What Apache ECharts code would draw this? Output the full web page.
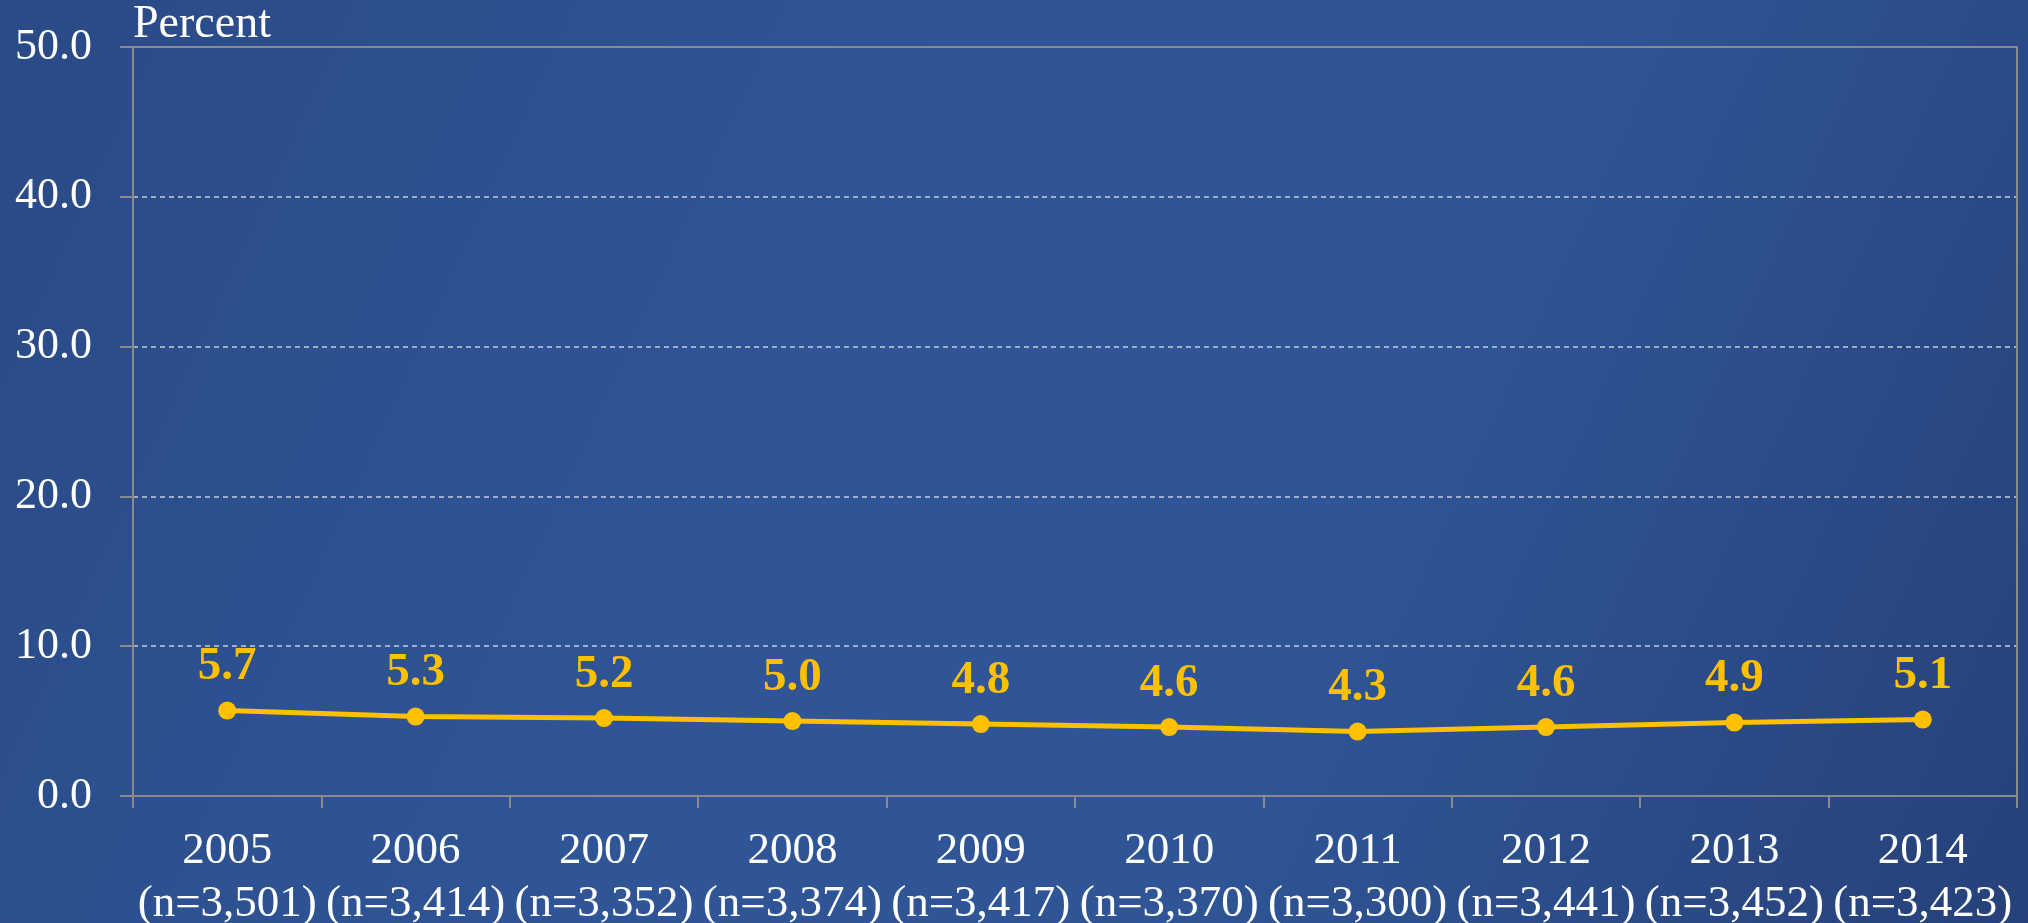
<!DOCTYPE html>
<html>
<head>
<meta charset="utf-8" />
<script src="https://cdn.jsdelivr.net/npm/echarts@6/dist/echarts.min.js"></script>
<style>
  html, body { margin: 0; height: 100%; }
  #chart { width: 2028px; height: 923px; }
</style>
</head>
<body>
<div id="chart"></div>
<script>
// chart data
var years = ['2005', '2006', '2007', '2008', '2009', '2010', '2011', '2012', '2013', '2014'];
var sampleSizes = ['3,501', '3,414', '3,352', '3,374', '3,417', '3,370', '3,300', '3,441', '3,452', '3,423'];
var percents = [5.7, 5.3, 5.2, 5.0, 4.8, 4.6, 4.3, 4.6, 4.9, 5.1];
var yTicks = [0, 10, 20, 30, 40, 50];

var categories = years.map(function (y, i) {
  return y + '\n(n=' + sampleSizes[i] + ')';
});

var serif = '"Liberation Serif", "DejaVu Serif", serif';
var gray = '#8a8a8a';

var myChart = echarts.init(document.getElementById('chart'));

var option = {
  backgroundColor: new echarts.graphic.LinearGradient(0, 0, 1, 1, [
    { offset: 0, color: '#2a4a86' },
    { offset: 0.4, color: '#2f5597' },
    { offset: 0.65, color: '#2f5596' },
    { offset: 1, color: '#26417a' }
  ]),
  animation: false,
  grid: { left: 133, right: 11, top: 47, bottom: 127, outerBoundsMode: 'none' },
  xAxis: [
    {
      type: 'category',
      data: categories,
      boundaryGap: true,
      axisLine: { lineStyle: { color: gray, width: 2 } },
      axisTick: { show: true, length: 12, lineStyle: { color: gray, width: 2 } },
      axisLabel: {
        color: '#ffffff',
        fontFamily: serif,
        fontSize: 45,
        lineHeight: 53,
        margin: 29,
        interval: 0
      }
    },
    {
      // top border of the plot
      type: 'category',
      position: 'top',
      data: categories,
      zlevel: 1,
      axisLine: { onZero: false, lineStyle: { color: gray, width: 2 } },
      axisTick: { show: false },
      axisLabel: { show: false }
    }
  ],
  yAxis: [
    {
      type: 'value',
      min: yTicks[0],
      max: yTicks[yTicks.length - 1],
      interval: 10,
      name: 'Percent',
      nameLocation: 'end',
      nameGap: -1,
      nameTextStyle: {
        color: '#ffffff',
        fontFamily: serif,
        fontSize: 46,
        align: 'left',
        verticalAlign: 'bottom'
      },
      axisLine: { show: true, lineStyle: { color: gray, width: 2 } },
      axisTick: { show: true, length: 13, lineStyle: { color: gray, width: 2 } },
      axisLabel: {
        color: '#ffffff',
        fontFamily: serif,
        fontSize: 44,
        margin: 41,
        formatter: function (v) { return v.toFixed(1); }
      },
      splitLine: {
        show: true,
        lineStyle: { color: '#c3cce0', width: 1.5, type: [5, 4] }
      }
    },
    {
      // right border of the plot
      type: 'value',
      position: 'right',
      min: yTicks[0],
      max: yTicks[yTicks.length - 1],
      interval: 10,
      zlevel: 1,
      axisLine: { show: true, onZero: false, lineStyle: { color: gray, width: 2 } },
      axisTick: { show: false },
      axisLabel: { show: false },
      splitLine: { show: false }
    }
  ],
  series: [
    {
      name: 'Percent',
      type: 'line',
      data: percents,
      symbol: 'circle',
      symbolSize: 18,
      itemStyle: { color: '#ffc000' },
      lineStyle: { color: '#ffc000', width: 5 },
      label: {
        show: true,
        position: 'top',
        distance: 11,
        color: '#ffc000',
        fontFamily: serif,
        fontWeight: 'bold',
        fontSize: 47,
        formatter: function (p) { return p.value.toFixed(1); }
      }
    }
  ]
};

myChart.setOption(option);
</script>
</body>
</html>
